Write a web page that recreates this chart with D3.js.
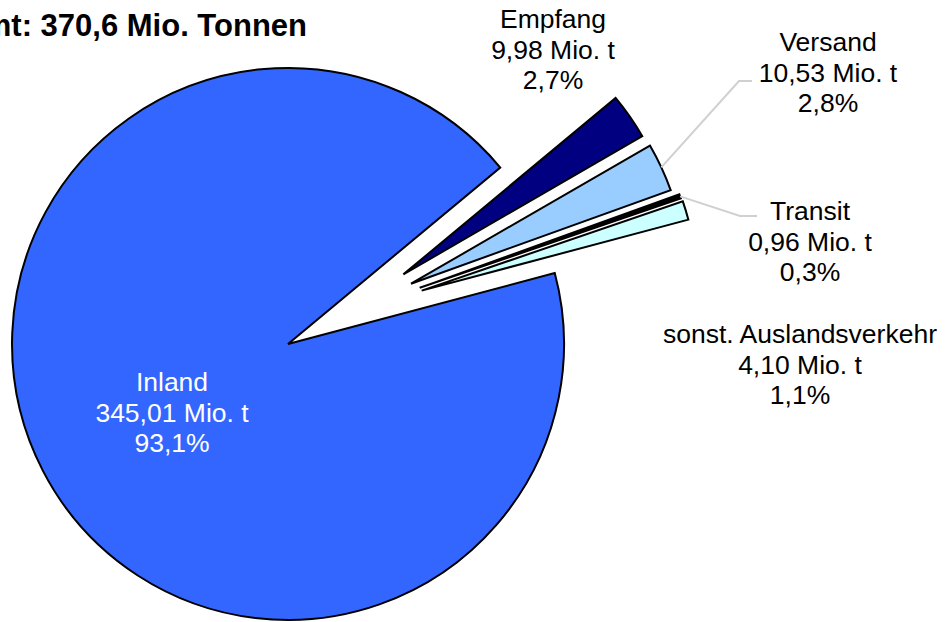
<!DOCTYPE html>
<meta charset="utf-8">
<style>
body { margin: 0; background: #fff; }
text { font-family: "Liberation Sans", Arial, sans-serif; }
.slice { stroke: #000; stroke-width: 2px; stroke-linejoin: miter; }
.leader { fill: none; stroke: #d0d0d0; stroke-width: 2px; }
</style>
<body>
<script src="https://cdn.jsdelivr.net/npm/d3@7"></script>
<script>

// data
var categories = ["Inland", "Empfang", "Versand", "Transit", "sonst. Auslandsverkehr"];
var values = [345.01, 9.98, 10.53, 0.96, 4.10];
var colors = ["#3366ff", "#000080", "#99ccff", "#000000", "#ccffff"];

var width = 947, height = 622;
var cx = 348, cy = 313, radius = 276;
var explode = [67.5, 67.5, 69.5, 76, 77];
var startDeg = 75.1;

// label placement (centre x, baseline of first line), leader lines
var labelPos = [[172, 391], [553, 28], [828, 51], [810, 220], [800, 343]];
var labelFill = ["#fff", "#000", "#000", "#000", "#000"];
var leaders = [null, null, [[739, 81], [752, 81]], [[740, 216], [757, 216]], null];

var total = d3.sum(values);
var de = function(v, n) { return d3.format("." + n + "f")(v).replace(".", ","); };

var svg = d3.select("body").append("svg")
    .attr("width", width)
    .attr("height", height);

// title (starts off the left edge as in the original)
svg.append("text")
    .attr("x", 307)
    .attr("y", 36)
    .attr("text-anchor", "end")
    .style("font-size", "31px")
    .style("font-weight", "bold")
    .text("Insgesamt: " + de(total, 1) + " Mio. Tonnen");

var pie = d3.pie().sort(null)
    .startAngle(startDeg * Math.PI / 180)
    .endAngle(startDeg * Math.PI / 180 + 2 * Math.PI);
var arc = d3.arc().innerRadius(0).outerRadius(radius);

var arcs = pie(values);

function offset(d, r) {
  var a = (d.startAngle + d.endAngle) / 2;
  return [Math.sin(a) * r, -Math.cos(a) * r];
}

var g = svg.append("g").attr("transform", "translate(" + cx + "," + cy + ")");

g.selectAll("path.slice")
    .data(arcs).enter()
    .append("path")
    .attr("class", "slice")
    .attr("d", arc)
    .attr("fill", function(d, i) { return colors[i]; })
    .attr("transform", function(d, i) {
      var o = offset(d, explode[i]);
      return "translate(" + o[0] + "," + o[1] + ")";
    });

// leader lines
arcs.forEach(function(d, i) {
  if (!leaders[i]) return;
  var o = offset(d, explode[i]), p = offset(d, radius);
  var pts = [[cx + o[0] + p[0], cy + o[1] + p[1]]].concat(leaders[i]);
  svg.append("path")
      .attr("class", "leader")
      .attr("d", d3.line()(pts));
});

// labels
categories.forEach(function(c, i) {
  var lines = [c, de(values[i], 2) + " Mio. t", de(values[i] / total * 100, 1) + "%"];
  var t = svg.append("text")
      .attr("text-anchor", "middle")
      .style("font-size", "26.5px")
      .attr("fill", labelFill[i]);
  lines.forEach(function(s, k) {
    t.append("tspan")
        .attr("x", labelPos[i][0])
        .attr("y", labelPos[i][1] + k * 30.5)
        .text(s);
  });
});

</script>
</body>
